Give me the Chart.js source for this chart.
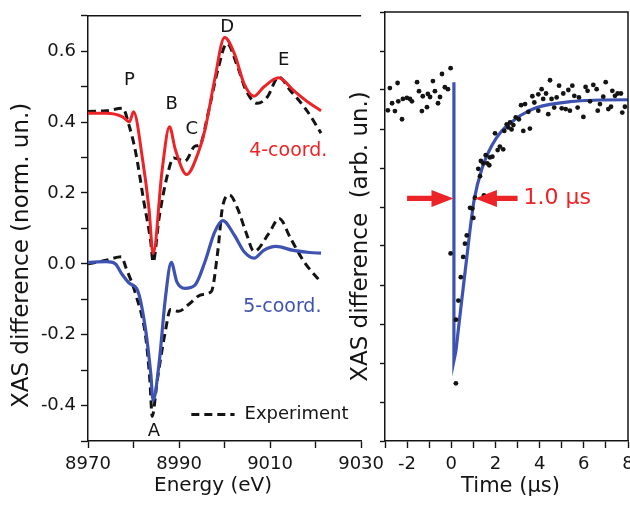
<!DOCTYPE html>
<html>
<head>
<meta charset="utf-8">
<script src="https://cdn.jsdelivr.net/npm/chart.js@4"></script>
<style>
  html, body { margin: 0; padding: 0; background: #fff; width: 630px; height: 509px; overflow: hidden; }
  #left { position: absolute; left: 0; top: 0; }
  #right { position: absolute; left: 340px; top: 0; }
</style>
</head>
<body>
<canvas id="left" width="390" height="509"></canvas>
<canvas id="right" width="300" height="509"></canvas>
<script>
// ---- left panel: XAS difference spectra ----
const e4calc = [8970, 8974, 8977.6, 8979.1, 8980.0, 8982.0, 8983.4, 8984.3, 8986.3, 8987.9, 8989.2, 8991.7, 8994.2, 8995.7, 8997.8, 9000.0, 9002.2, 9004.3, 9006.5, 9008.6, 9011.9, 9015.1, 9018.7, 9021.2];
const y4calc = [0.425, 0.425, 0.415, 0.401, 0.429, 0.294, 0.155, 0.029, 0.266, 0.387, 0.322, 0.252, 0.313, 0.378, 0.518, 0.639, 0.592, 0.508, 0.473, 0.499, 0.525, 0.490, 0.453, 0.432];

const e4exp = [8970, 8974, 8977.6, 8979.1, 8980.5, 8982.3, 8983.8, 8984.3, 8985.6, 8987.4, 8988.8, 8991.3, 8993.5, 8994.6, 8996.4, 8998.5, 9000.5, 9002.9, 9004.7, 9007.2, 9009.4, 9011.9, 9014.4, 9018.0, 9021.2];
const y4exp = [0.430, 0.432, 0.439, 0.387, 0.313, 0.173, 0.061, 0.005, 0.128, 0.248, 0.299, 0.290, 0.332, 0.336, 0.425, 0.546, 0.622, 0.555, 0.490, 0.453, 0.471, 0.527, 0.490, 0.434, 0.369];

const e5calc = [8970, 8974, 8976, 8977.5, 8979.1, 8980.9, 8982.7, 8983.8, 8984.3, 8985.6, 8987.0, 8988.3, 8989.5, 8991.3, 8993.5, 8995.7, 8997.8, 8999.6, 9002.2, 9004.3, 9006.5, 9008.6, 9011.3, 9015.1, 9018.7, 9021.2];
const y5calc = [0.004, 0.006, 0.000, -0.030, -0.055, -0.075, -0.190, -0.311, -0.385, -0.283, -0.097, 0.004, -0.050, -0.069, -0.060, 0.006, 0.089, 0.122, 0.080, 0.034, 0.016, 0.038, 0.049, 0.038, 0.032, 0.030];

const e5exp = [8970, 8974, 8977.3, 8978.4, 8980.5, 8982.7, 8983.6, 8984.1, 8985.2, 8987.0, 8988.1, 8989.9, 8992.1, 8994.9, 8997.1, 8998.5, 8999.6, 9001.1, 9002.9, 9004.7, 9006.5, 9009.7, 9012.0, 9014.5, 9017.4, 9021.0];
const y5exp = [0.000, 0.010, 0.020, -0.013, -0.087, -0.209, -0.330, -0.430, -0.330, -0.190, -0.129, -0.134, -0.115, -0.087, -0.078, 0.034, 0.164, 0.194, 0.155, 0.089, 0.035, 0.085, 0.128, 0.072, 0.007, -0.049];

const energyTickLabels = [8970, 8990, 9010, 9030];
const xasTickLabels = [-0.4, -0.2, 0.0, 0.2, 0.4, 0.6];

// ---- right panel: transient at the edge ----
const tDots = [-2.78, -2.43, -2.87, -2.68, -2.55, -2.40, -2.23, -2.19, -2.01, -1.87, -1.78, -1.55, -1.46, -1.33, -1.29, -1.10, -1.06, -0.96, -0.83, -0.74, -0.60, -0.51, -0.42, -0.29, -0.15, -0.03,
  -0.03, 0.21, 0.21, 0.32, 0.43, 0.54, 0.62, 0.70, 0.85, 0.95, 1.00, 1.07, 1.48, 1.22, 1.30, 1.34, 1.45, 1.56, 1.63, 1.72, 1.75, 1.86, 1.98, 2.10, 2.20, 2.35, 2.40, 2.51, 2.58, 2.66, 2.73, 2.81, 2.92, 3.06, 3.16, 3.26, 3.34, 3.49, 3.56, 3.67, 3.76, 3.94,
  3.94, 4.09, 4.16, 4.29, 4.39, 4.47, 4.54, 4.66, 4.77, 4.88, 5.00, 5.07, 5.18, 5.30, 5.37, 5.48, 5.57, 5.72, 5.78, 5.98, 6.08, 6.17, 6.28, 6.43, 6.58, 6.63, 6.73, 6.88, 6.99, 7.11, 7.23, 7.29, 7.41, 7.53, 7.68, 7.74, 7.86];
const vDots = [9.05, 9.18, 8.48, 8.66, 8.46, 8.71, 8.25, 8.77, 8.80, 8.77, 8.71, 9.20, 8.97, 8.46, 8.84, 8.56, 8.90, 8.82, 9.23, 8.97, 8.66, 8.82, 9.41, 9.07, 9.02, 9.56,
  4.81, 1.48, 3.11, 3.60, 4.20, 4.72, 5.06, 5.27, 5.98, 5.96, 5.72, 6.24, 6.30, 6.98, 6.79, 7.18, 7.12, 7.33, 7.12, 7.07, 7.27, 7.29, 7.89, 7.46, 7.55, 7.48, 7.95, 8.12, 8.04, 8.17, 7.99, 8.10, 8.30, 8.25, 8.61, 7.95, 8.64, 8.44, 8.01, 8.84, 8.68, 8.89,
  8.47, 9.02, 8.77, 8.91, 8.38, 9.25, 8.77, 8.55, 8.81, 9.11, 8.53, 8.91, 8.51, 9.00, 8.47, 9.11, 8.85, 8.55, 8.81, 8.31, 9.08, 8.98, 8.71, 9.13, 9.02, 8.47, 8.64, 8.83, 9.20, 8.51, 8.57, 8.98, 8.85, 8.91, 8.91, 8.42, 8.57];

const tFit = [0.12, 0.12, 0.21, 0.85, 1.04, 1.38, 1.83, 2.28, 2.81, 3.11, 3.87, 5.38, 7.95, 8.0];
const vFit = [9.20, 2.06, 2.31, 5.42, 6.20, 6.97, 7.57, 7.95, 8.21, 8.34, 8.55, 8.70, 8.75, 8.75];

const timeTickLabels = [-2, 0, 2, 4, 6, 8];

const RED = '#ec2327';
const BLUE = '#3d52b1';
const INK = '#141414';
const FONT = '"DejaVu Sans", sans-serif';

const pts = (xs, ys) => xs.map((x, i) => ({ x, y: ys[i] }));

Chart.defaults.font.family = FONT;
Chart.defaults.color = INK;

const axisGrid = { drawOnChartArea: false, drawTicks: true, tickLength: 7, tickColor: INK, tickWidth: 1.4 };
const axisBorder = { color: INK, width: 1.5 };

function arrow(ctx, xTail, xTip, y) {
  const dir = Math.sign(xTip - xTail);
  const head = 22, hw = 8.5, sw = 2.6;
  const xb = xTip - dir * head;
  ctx.beginPath();
  ctx.moveTo(xTail, y - sw);
  ctx.lineTo(xb, y - sw);
  ctx.lineTo(xb, y - hw);
  ctx.lineTo(xTip, y);
  ctx.lineTo(xb, y + hw);
  ctx.lineTo(xb, y + sw);
  ctx.lineTo(xTail, y + sw);
  ctx.closePath();
  ctx.fill();
}

const leftDecor = {
  id: 'leftDecor',
  afterDraw(chart) {
    const { ctx, chartArea: a, scales: { x, y } } = chart;
    const px = (e) => x.getPixelForValue(e);
    const py = (v) => y.getPixelForValue(v);
    ctx.save();
    ctx.strokeStyle = INK;
    ctx.lineWidth = 1.5;
    ctx.beginPath();
    ctx.moveTo(a.left, a.top);
    ctx.lineTo(a.right, a.top);
    ctx.stroke();

    ctx.fillStyle = INK;
    ctx.textAlign = 'center';
    ctx.textBaseline = 'middle';
    ctx.font = '18px ' + FONT;
    [['P', 8979.1, 0.517], ['B', 8988.4, 0.449], ['C', 8992.8, 0.381], ['D', 9000.6, 0.668],
     ['E', 9013.0, 0.574], ['A', 8984.5, -0.472]].forEach(([t, e, v]) => ctx.fillText(t, px(e), py(v)));

    ctx.font = '19px ' + FONT;
    ctx.fillStyle = RED;
    ctx.fillText('4-coord.', px(9014.0), py(0.317));
    ctx.fillStyle = BLUE;
    ctx.fillText('5-coord.', px(9012.7), py(-0.121));

    // legend
    ctx.strokeStyle = INK;
    ctx.lineWidth = 3;
    ctx.setLineDash([8, 5]);
    ctx.beginPath();
    ctx.moveTo(px(8992.7), py(-0.425));
    ctx.lineTo(px(9002.2), py(-0.425));
    ctx.stroke();
    ctx.setLineDash([]);
    ctx.fillStyle = INK;
    ctx.textAlign = 'left';
    ctx.font = '18px ' + FONT;
    ctx.fillText('Experiment', px(9004.4), py(-0.425));

    // axis titles
    ctx.textAlign = 'center';
    ctx.font = '20px ' + FONT;
    ctx.fillText('Energy (eV)', a.left + 125, 486);
    ctx.translate(a.left - 66, (a.top + a.bottom) / 2 + 27);
    ctx.rotate(-Math.PI / 2);
    ctx.font = '23px ' + FONT;
    ctx.fillText('XAS difference (norm. un.)', 0, 0);
    ctx.restore();
  }
};

const rightDecor = {
  id: 'rightDecor',
  afterDraw(chart) {
    const { ctx, chartArea: a, scales: { x, y } } = chart;
    const px = (t) => x.getPixelForValue(t);
    const py = (v) => y.getPixelForValue(v);
    ctx.save();
    ctx.strokeStyle = INK;
    ctx.lineWidth = 1.5;
    ctx.beginPath();
    ctx.moveTo(a.left, a.top);
    ctx.lineTo(a.right, a.top);
    ctx.lineTo(a.right, a.bottom);
    ctx.stroke();

    ctx.fillStyle = RED;
    arrow(ctx, px(-2.0), px(0.10), py(6.22));
    arrow(ctx, px(3.0), px(1.07), py(6.22));
    ctx.font = '22px ' + FONT;
    ctx.textAlign = 'left';
    ctx.textBaseline = 'middle';
    ctx.fillText('1.0 \u00b5s', px(3.27), py(6.22));

    ctx.fillStyle = INK;
    ctx.textAlign = 'center';
    ctx.font = '21px ' + FONT;
    ctx.fillText('Time (\u00b5s)', (a.left + a.right) / 2 + 4, 487);
    ctx.translate(a.left - 24, (a.top + a.bottom) / 2 + 10);
    ctx.rotate(-Math.PI / 2);
    ctx.font = '23px ' + FONT;
    ctx.fillText('XAS difference  (arb. un.)', 0, 0);
    ctx.restore();
  }
};

const lineDs = (data, color, dashed, width) => ({
  data,
  showLine: true,
  borderColor: color,
  borderWidth: width,
  borderDash: dashed ? [8, 5] : [],
  pointRadius: 0,
  cubicInterpolationMode: 'monotone',
  fill: false
});

new Chart(document.getElementById('left'), {
  type: 'scatter',
  data: {
    datasets: [
      lineDs(pts(e4calc, y4calc), RED, false, 3),
      lineDs(pts(e5calc, y5calc), BLUE, false, 3.2),
      lineDs(pts(e4exp, y4exp), INK, true, 3),
      lineDs(pts(e5exp, y5exp), INK, true, 3)
    ]
  },
  options: {
    responsive: false,
    animation: false,
    layout: { padding: { top: 12, right: 25, left: 0, bottom: 0 } },
    plugins: { legend: { display: false }, tooltip: { enabled: false } },
    scales: {
      x: {
        type: 'linear', min: 8970, max: 9030,
        afterFit: (s) => { s.height = 68; },
        border: axisBorder, grid: axisGrid,
        ticks: {
          stepSize: 10, autoSkip: false, maxRotation: 0, padding: 6,
          font: { size: 18 },
          callback: (v) => energyTickLabels.includes(Math.round(v)) ? String(Math.round(v)) : ''
        }
      },
      y: {
        min: -0.5, max: 0.7,
        afterFit: (s) => { s.width = 88; },
        border: axisBorder, grid: axisGrid,
        ticks: {
          stepSize: 0.1, autoSkip: false, padding: 5,
          font: { size: 18 },
          callback: (v) => {
            const r = Math.round(v * 10) / 10;
            return xasTickLabels.some((l) => Math.abs(l - r) < 1e-6) ? (r === 0 ? '0.0' : r.toFixed(1)) : '';
          }
        }
      }
    }
  },
  plugins: [leftDecor]
});

const fitPts = pts(tFit, vFit);

new Chart(document.getElementById('right'), {
  type: 'scatter',
  data: {
    datasets: [
      { data: pts(tDots, vDots), pointRadius: 2.4, pointBackgroundColor: INK, pointBorderWidth: 0, showLine: false },
      { data: fitPts.slice(0, 3), showLine: true, borderColor: BLUE, borderWidth: 3.2, pointRadius: 0, tension: 0 },
      { data: fitPts.slice(2), showLine: true, borderColor: BLUE, borderWidth: 3.2, pointRadius: 0, cubicInterpolationMode: 'monotone' }
    ]
  },
  options: {
    responsive: false,
    animation: false,
    layout: { padding: { top: 12, right: 12, left: 0, bottom: 0 } },
    plugins: { legend: { display: false }, tooltip: { enabled: false } },
    scales: {
      x: {
        type: 'linear', min: -3, max: 8,
        afterFit: (s) => { s.height = 68; },
        border: axisBorder, grid: axisGrid,
        ticks: {
          stepSize: 1, autoSkip: false, maxRotation: 0, padding: 6,
          font: { size: 18 },
          callback: (v) => timeTickLabels.includes(Math.round(v)) ? String(Math.round(v)) : ''
        }
      },
      y: {
        min: 0, max: 11,
        afterFit: (s) => { s.width = 45; },
        border: axisBorder, grid: { ...axisGrid, tickLength: 5 },
        ticks: { stepSize: 1, autoSkip: false, callback: () => '' }
      }
    }
  },
  plugins: [rightDecor]
});
</script>
</body>
</html>
